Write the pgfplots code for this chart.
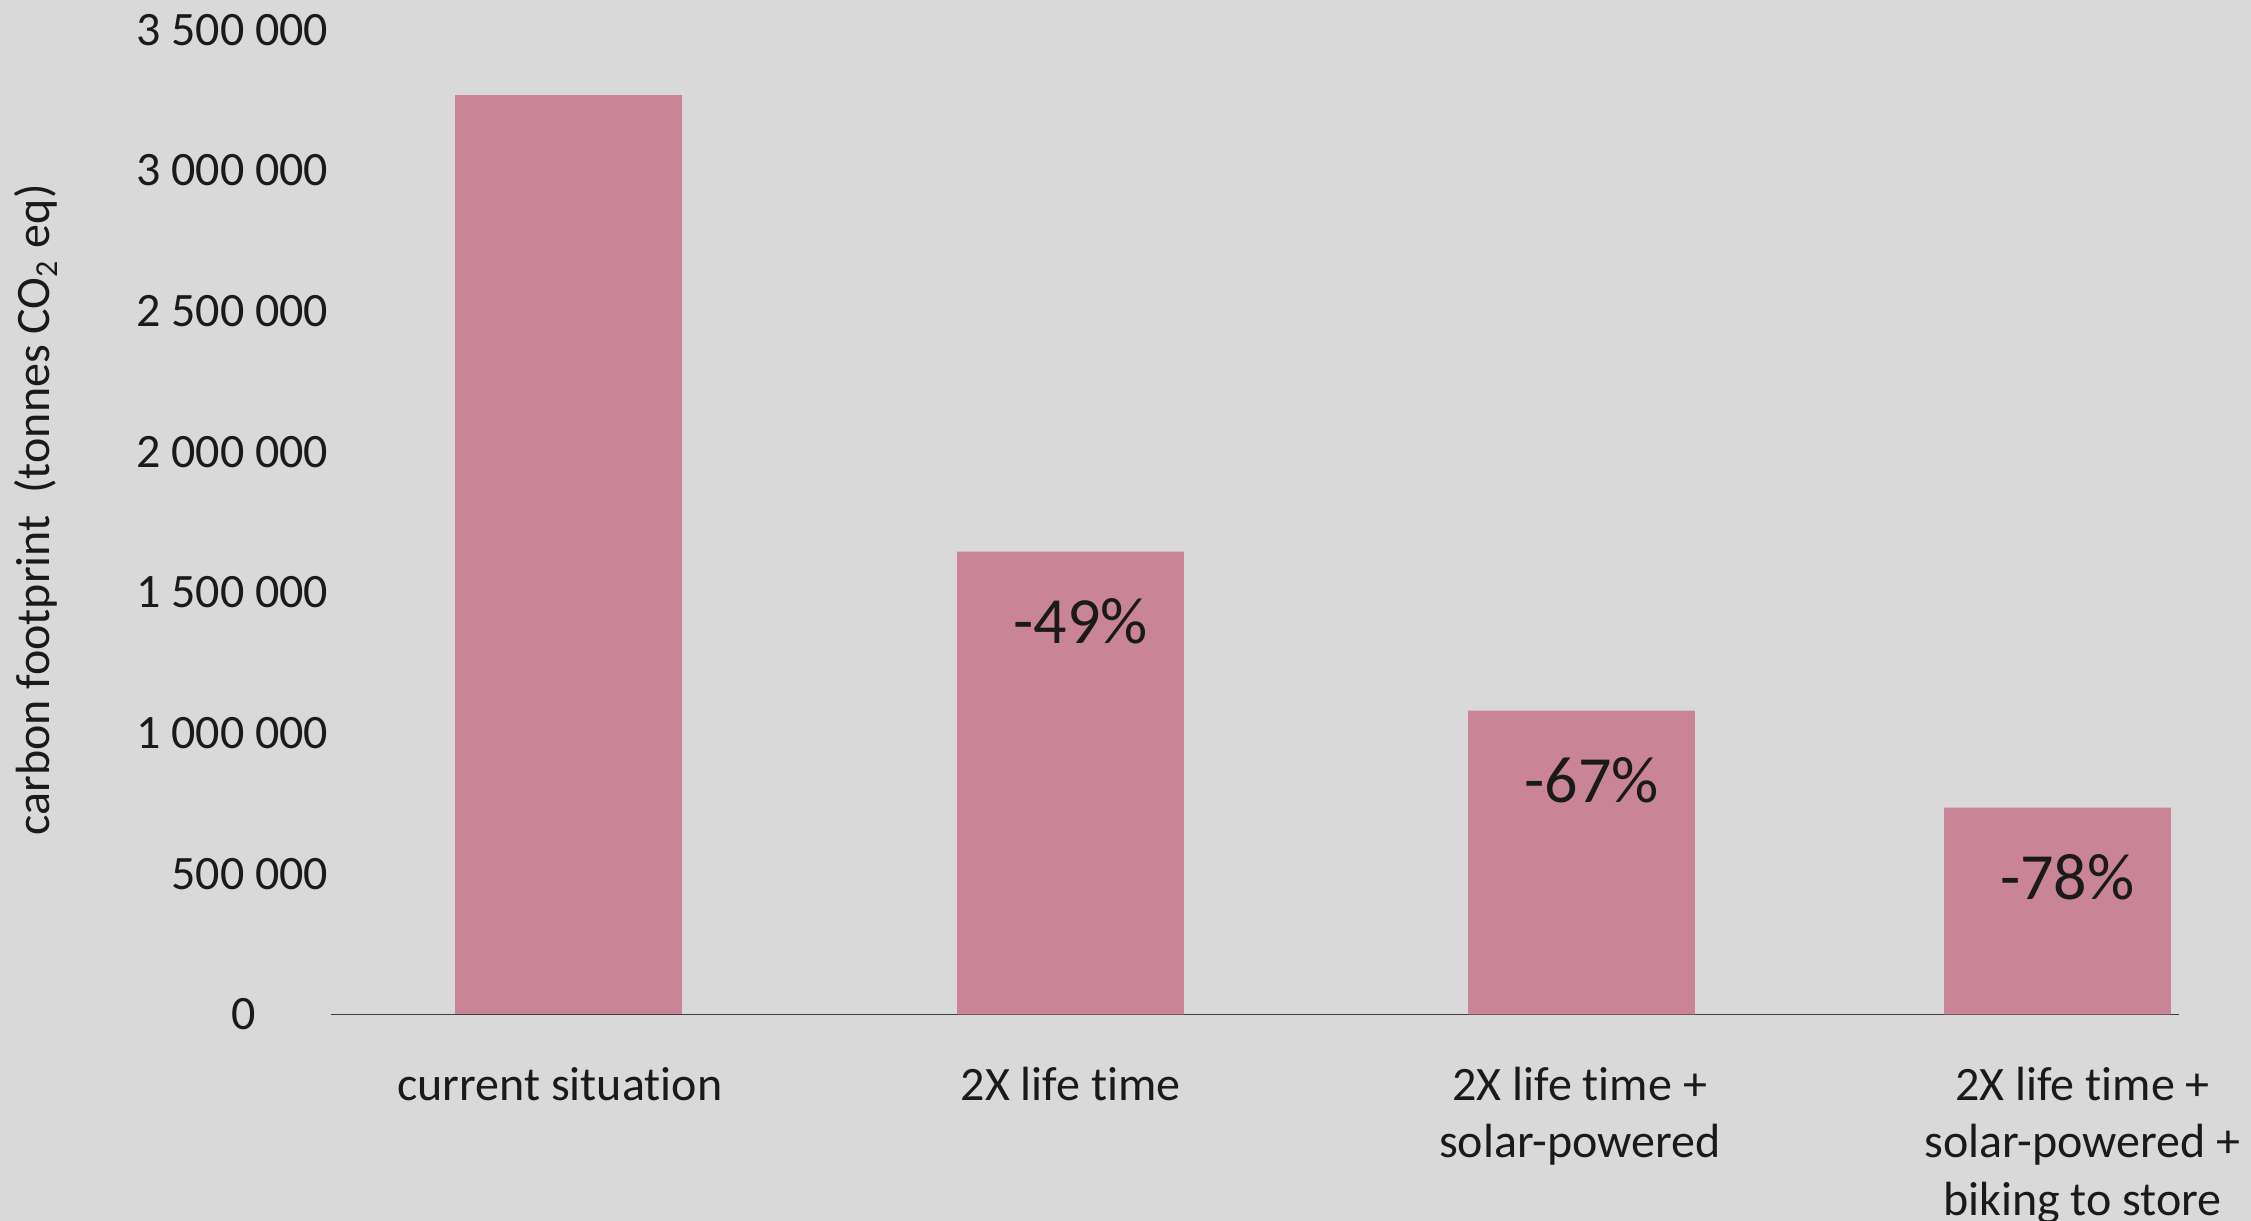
\documentclass[border=0pt]{standalone}
\usepackage{fontspec}
\setmainfont{Carlito}[Ligatures={NoCommon}]
\usepackage{pgfplots}
\pgfplotsset{compat=1.18}
\definecolor{bg}{RGB}{217,217,217}
\definecolor{barpink}{RGB}{201,132,149}
\definecolor{txt}{RGB}{26,26,26}
\begin{document}
\begin{tikzpicture}
% background, 1 px of the reference = 0.25pt
\fill[bg] (-82.75pt,-51.675pt) rectangle (480pt,253.575pt);
\begin{axis}[
  at={(0pt,0pt)}, anchor=south west,
  scale only axis, width=462pt, height=246.1pt,
  xmin=-0.4725, xmax=3.207, ymin=0, ymax=3500000,
  axis lines*=left,
  x axis line style={draw=black!75, line width=0.4pt, -},
  y axis line style={draw=none},
  tick style={draw=none},
  major tick length=0pt,
  ytick={0,500000,1000000,1500000,2000000,2500000,3000000,3500000},
  yticklabels={0\kern18pt, 500 000, 1 000 000, 1 500 000, 2 000 000, 2 500 000, 3 000 000, 3 500 000},
  yticklabel style={font=\fontsize{12}{14.4}\selectfont, text=txt, inner sep=0pt, xshift=-0.5pt},
  xtick={-0.017,1,2.014,3.015},
  xticklabels={\strut current situation, \strut 2X life time, {\strut 2X life time +\\solar-powered}, {\strut 2X life time +\\solar-powered +\\biking to store}},
  xticklabel style={font=\fontsize{12}{14.3}\selectfont, text=txt, align=center, anchor=north, inner sep=0pt, yshift=-11.4pt},
  ylabel={carbon footprint\ \ (tonnes CO\textsubscript{2} eq)},
  every axis y label/.style={at={(axis description cs:-0.1521,0.5123)}, rotate=90, anchor=base, font=\fontsize{12}{14.4}\selectfont, text=txt},
  clip=false,
]
% current situation
\addplot[ybar, bar width=56.7pt, bar shift=0pt, fill=barpink, draw=none]
  coordinates {(0,3270000)};
% scenarios with reduction labels
\addplot[ybar, bar width=56.7pt, bar shift=0pt, fill=barpink, draw=none,
  point meta=explicit symbolic, nodes near coords,
  every node near coord/.append style={anchor=base, yshift=-23pt, xshift=2.5pt, font=\fontsize{16.5}{19}\selectfont, text=txt}]
  coordinates {(1,1645000)[-49\%] (2.0175,1080000)[-67\%] (2.965,735000)[-78\%]};
\end{axis}
\pgfresetboundingbox
\useasboundingbox (-82.75pt,-51.675pt) rectangle (480pt,253.575pt);
\end{tikzpicture}
\end{document}
